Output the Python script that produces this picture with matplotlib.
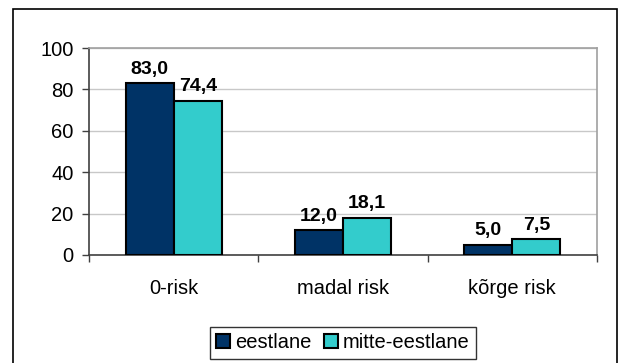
import numpy as np
import matplotlib
matplotlib.use('Agg')
import matplotlib.pyplot as plt
from matplotlib.patches import Rectangle

categories = ['0-risk', 'madal risk', 'kõrge risk']
series_names = ['eestlane', 'mitte-eestlane']
eestlane = [83.0, 12.0, 5.0]
mitte_eestlane = [74.4, 18.1, 7.5]
yticks = [0, 20, 40, 60, 80, 100]

colors = ['#003366', '#33CCCC']

plt.rcParams['font.family'] = ['Liberation Sans', 'DejaVu Sans']

fig = plt.figure(figsize=(6.19, 3.63), dpi=100)
ax = fig.add_axes([89 / 619, 1 - 255 / 363, (597 - 89) / 619, (255 - 48) / 363])

# outer chart frame
fig.patches.append(Rectangle((13 / 619, -0.05), (617 - 13) / 619, 1 - 9 / 363 + 0.05,
                             transform=fig.transFigure, fill=False, edgecolor='black',
                             linewidth=1.2, zorder=0))

x = np.arange(len(categories))
w = 0.284
b1 = ax.bar(x - w / 2, eestlane, w, color=colors[0], edgecolor='black', linewidth=1.5,
            label=series_names[0], zorder=3)
b2 = ax.bar(x + w / 2, mitte_eestlane, w, color=colors[1], edgecolor='black', linewidth=1.5,
            label=series_names[1], zorder=3)

for bars, vals in [(b1, eestlane), (b2, mitte_eestlane)]:
    for r, v in zip(bars, vals):
        ax.annotate(f'{v:.1f}'.replace('.', ','), (r.get_x() + r.get_width() / 2, v),
                    xytext=(0, 4), textcoords='offset points', ha='center', va='bottom',
                    fontsize=14, fontweight='bold', zorder=4)

ax.set_ylim(0, 100)
ax.set_xlim(-0.5, 2.5)
ax.set_yticks(yticks)
ax.set_yticklabels([str(t) for t in yticks])
ax.yaxis.grid(True, color='#c8c8c8', linewidth=1, zorder=0)
ax.set_axisbelow(True)

ax.set_xticks(x)
ax.set_xticklabels(categories)
ax.set_xticks([-0.5, 0.5, 1.5, 2.5], minor=True)
ax.tick_params(axis='x', which='major', length=0, pad=17, labelsize=14.5)
ax.tick_params(axis='x', which='minor', length=5, width=1, color='#404040', direction='out')
ax.tick_params(axis='y', length=5, width=1, color='#404040', direction='out', labelsize=14.5, pad=6)

ax.spines['left'].set_color('#404040')
ax.spines['bottom'].set_color('#404040')
ax.spines['top'].set_color('#a0a0a0')
ax.spines['right'].set_color('#a0a0a0')
for s in ax.spines.values():
    s.set_linewidth(1.2)

leg = ax.legend(loc='center', bbox_to_anchor=(0.5, -0.425), ncol=2, frameon=True,
                fancybox=False, edgecolor='black', fontsize=14.5, handlelength=0.7,
                handleheight=0.7, handletextpad=0.25, columnspacing=0.6,
                borderpad=0.3, borderaxespad=0)
leg.get_frame().set_linewidth(1.0)

fig.savefig('out.png', dpi=100, facecolor='white')
